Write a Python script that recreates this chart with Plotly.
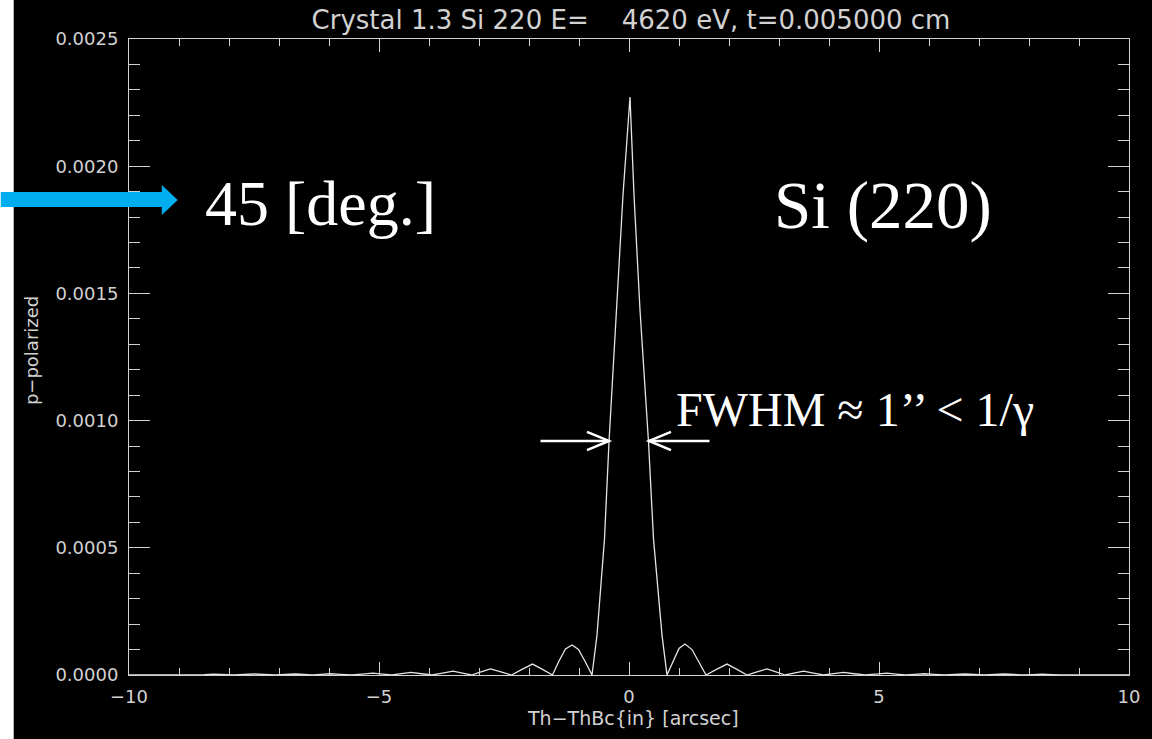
import plotly.graph_objects as go

# ---- data ----
x_arcsec = [
    -10.0, -8.7, -8.5, -8.3, -8.1, -7.9, -7.7, -7.5, -7.29, -7.08,
    -6.88, -6.67, -6.5, -6.33, -6.16, -5.98, -5.77, -5.55, -5.34, -5.12,
    -4.93, -4.74, -4.55, -4.36, -4.15, -3.94, -3.73, -3.52, -3.33, -3.15,
    -2.96, -2.77, -2.56, -2.35, -2.14, -1.93, -1.73, -1.53, -1.40, -1.27,
    -1.14, -1.01, -0.87, -0.74, -0.64, -0.49, -0.40, -0.25, -0.12, 0.02,
    0.10, 0.22, 0.39, 0.49, 0.66, 0.76, 0.88, 1.00, 1.12, 1.26,
    1.40, 1.54, 1.75, 1.96, 2.16, 2.36, 2.56, 2.76, 2.94, 3.12,
    3.30, 3.49, 3.69, 3.89, 4.09, 4.29, 4.50, 4.72, 4.94, 5.16,
    5.34, 5.53, 5.72, 5.91, 6.11, 6.31, 6.51, 6.71, 6.91, 7.11,
    7.31, 7.51, 7.70, 7.88, 8.07, 8.26, 8.46, 8.66, 10.0,
]
p_polarized = [
    0.0, 0.0, 1.5e-6, 3e-6, 1.5e-6, 0.0, 2e-6, 4e-6, 2e-6, 0.0,
    2e-6, 4e-6, 2e-6, 0.0, 2.5e-6, 5e-6, 2.5e-6, 0.0, 3.5e-6, 7e-6,
    3.5e-6, 0.0, 5e-6, 1.0e-5, 5e-6, 0.0, 7.5e-6, 1.5e-5, 7.5e-6, 0.0,
    1.2e-5, 2.4e-5, 1.2e-5, 0.0, 2.2e-5, 4.3e-5, 2.2e-5, 0.0, 5.5e-5, 1.02e-4,
    1.18e-4, 1.0e-4, 5.0e-5, 0.0, 1.57e-4, 5.35e-4, 9.16e-4, 1.435e-3, 1.887e-3, 2.272e-3,
    1.887e-3, 1.435e-3, 9.16e-4, 5.35e-4, 1.57e-4, 0.0, 5.2e-5, 1.04e-4, 1.22e-4, 1.0e-4,
    5.0e-5, 0.0, 2.2e-5, 4.3e-5, 2.2e-5, 0.0, 1.2e-5, 2.4e-5, 1.2e-5, 0.0,
    7.5e-6, 1.5e-5, 7.5e-6, 0.0, 5e-6, 1.0e-5, 5e-6, 0.0, 3.5e-6, 7e-6,
    3.5e-6, 0.0, 2.5e-6, 5e-6, 2.5e-6, 0.0, 2e-6, 4e-6, 2e-6, 0.0,
    2e-6, 4e-6, 2e-6, 0.0, 1.5e-6, 3e-6, 1.5e-6, 0.0, 0.0,
]
x_tick_vals = [-10, -5, 0, 5, 10]
y_tick_vals = [0.0, 0.0005, 0.0010, 0.0015, 0.0020, 0.0025]

fwhm_level = 0.00092          # height of the FWHM arrows
fwhm_left = [-1.77, -0.40]    # left arrow: tail, tip
fwhm_right = [1.61, 0.40]     # right arrow: tail, tip

title_text = "Crystal 1.3 Si 220 E=\u00a0\u00a0\u00a0\u00a04620 eV, t=0.005000 cm"
x_title = "Th\u2212ThBc{in} [arcsec]"
y_title = "p\u2212polarized"

# ---- layout helpers (pixel -> paper) ----
W, H = 1152, 739
L, R, T, B = 129, 1135, 39, 675


def px(v):
    return (v - L) / (R - L)


def py(v):
    return (B - v) / (B - T)


axis_color = "#d2d2d2"
tick_font = dict(family="DejaVu Sans", size=18, color="#d2d2d2")

fig = go.Figure()
fig.add_trace(go.Scatter(
    x=x_arcsec, y=p_polarized, mode="lines",
    line=dict(color="#e4e4e4", width=1.3), hoverinfo="skip",
))

fig.update_layout(
    width=W, height=H,
    paper_bgcolor="black", plot_bgcolor="black",
    margin=dict(l=L, r=W - R, t=T, b=H - B),
    showlegend=False,
    title=dict(text=title_text, x=631 / W, xanchor="center",
               y=1 - 20 / H, yanchor="middle",
               font=dict(family="DejaVu Sans", size=26, color="#d2d2d2")),
    xaxis=dict(range=[-10, 10], tickvals=x_tick_vals, ticks="inside",
               ticklen=13, tickwidth=1, tickcolor=axis_color,
               showline=True, linecolor=axis_color, linewidth=1,
               mirror="allticks", showgrid=False, zeroline=False,
               tickfont=tick_font, ticklabelstandoff=5,
               minor=dict(dtick=1, tick0=0, ticks="inside", ticklen=7,
                          tickcolor=axis_color, tickwidth=1, showgrid=False)),
    yaxis=dict(range=[0, 0.0025], tickvals=y_tick_vals, tickformat=".4f",
               ticks="inside", ticklen=21, tickwidth=1, tickcolor=axis_color,
               showline=True, linecolor=axis_color, linewidth=1,
               mirror="allticks", showgrid=False, zeroline=False,
               tickfont=tick_font, ticklabelstandoff=6,
               minor=dict(dtick=0.0001, tick0=0, ticks="inside", ticklen=11,
                          tickcolor=axis_color, tickwidth=1, showgrid=False)),
)

shapes = []
# white strip on the left edge
shapes.append(dict(type="rect", xref="paper", yref="paper",
                   x0=px(-5), x1=px(13), y0=py(H + 5), y1=py(-5),
                   fillcolor="white", line=dict(width=0), layer="above"))
# blue arrow
arrow_path = "M {} {} L {} {} L {} {} L {} {} L {} {} L {} {} L {} {} Z".format(
    px(0), py(192), px(162), py(192), px(162), py(185), px(178), py(200),
    px(162), py(215), px(162), py(207), px(0), py(207))
shapes.append(dict(type="path", xref="paper", yref="paper", path=arrow_path,
                   fillcolor="#00AEEF", line=dict(width=0), layer="above"))

# FWHM arrows (data coordinates)
arm_dx = 0.44
arm_dy = 0.000036
for tail, tip in (fwhm_left, fwhm_right):
    shapes.append(dict(type="line", xref="x", yref="y", x0=tail, x1=tip,
                       y0=fwhm_level, y1=fwhm_level,
                       line=dict(color="white", width=2.5)))
    back = tip - arm_dx if tip > tail else tip + arm_dx
    shapes.append(dict(type="path", xref="x", yref="y",
                       path="M {} {} L {} {} L {} {}".format(
                           back, fwhm_level + arm_dy, tip, fwhm_level,
                           back, fwhm_level - arm_dy),
                       line=dict(color="white", width=2.5)))
fig.update_layout(shapes=shapes)

annotations = [
    dict(text=x_title, xref="paper", yref="paper", x=px(636), y=py(718),
         showarrow=False, xanchor="center", yanchor="middle",
         font=dict(family="DejaVu Sans", size=19, color="#d2d2d2")),
    dict(text=y_title, xref="paper", yref="paper", x=px(30.5), y=py(351),
         showarrow=False, xanchor="center", yanchor="middle", textangle=-90,
         font=dict(family="DejaVu Sans", size=18, color="#d2d2d2")),
    dict(text="45 [deg.]", xref="paper", yref="paper", x=px(322), y=py(203),
         showarrow=False, xanchor="center", yanchor="middle",
         font=dict(family="Liberation Serif", size=64, color="white")),
    dict(text="Si (220)", xref="paper", yref="paper", x=px(888), y=py(205),
         showarrow=False, xanchor="center", yanchor="middle",
         font=dict(family="Liberation Serif", size=67, color="white")),
    dict(text="FWHM \u2248 1\u2019\u2019 &lt; 1/\u03b3", xref="paper", yref="paper",
         x=px(859), y=py(409), showarrow=False, xanchor="center", yanchor="middle",
         font=dict(family="Liberation Serif", size=48, color="white")),
]
fig.update_layout(annotations=annotations)

fig.write_html("out.html")
